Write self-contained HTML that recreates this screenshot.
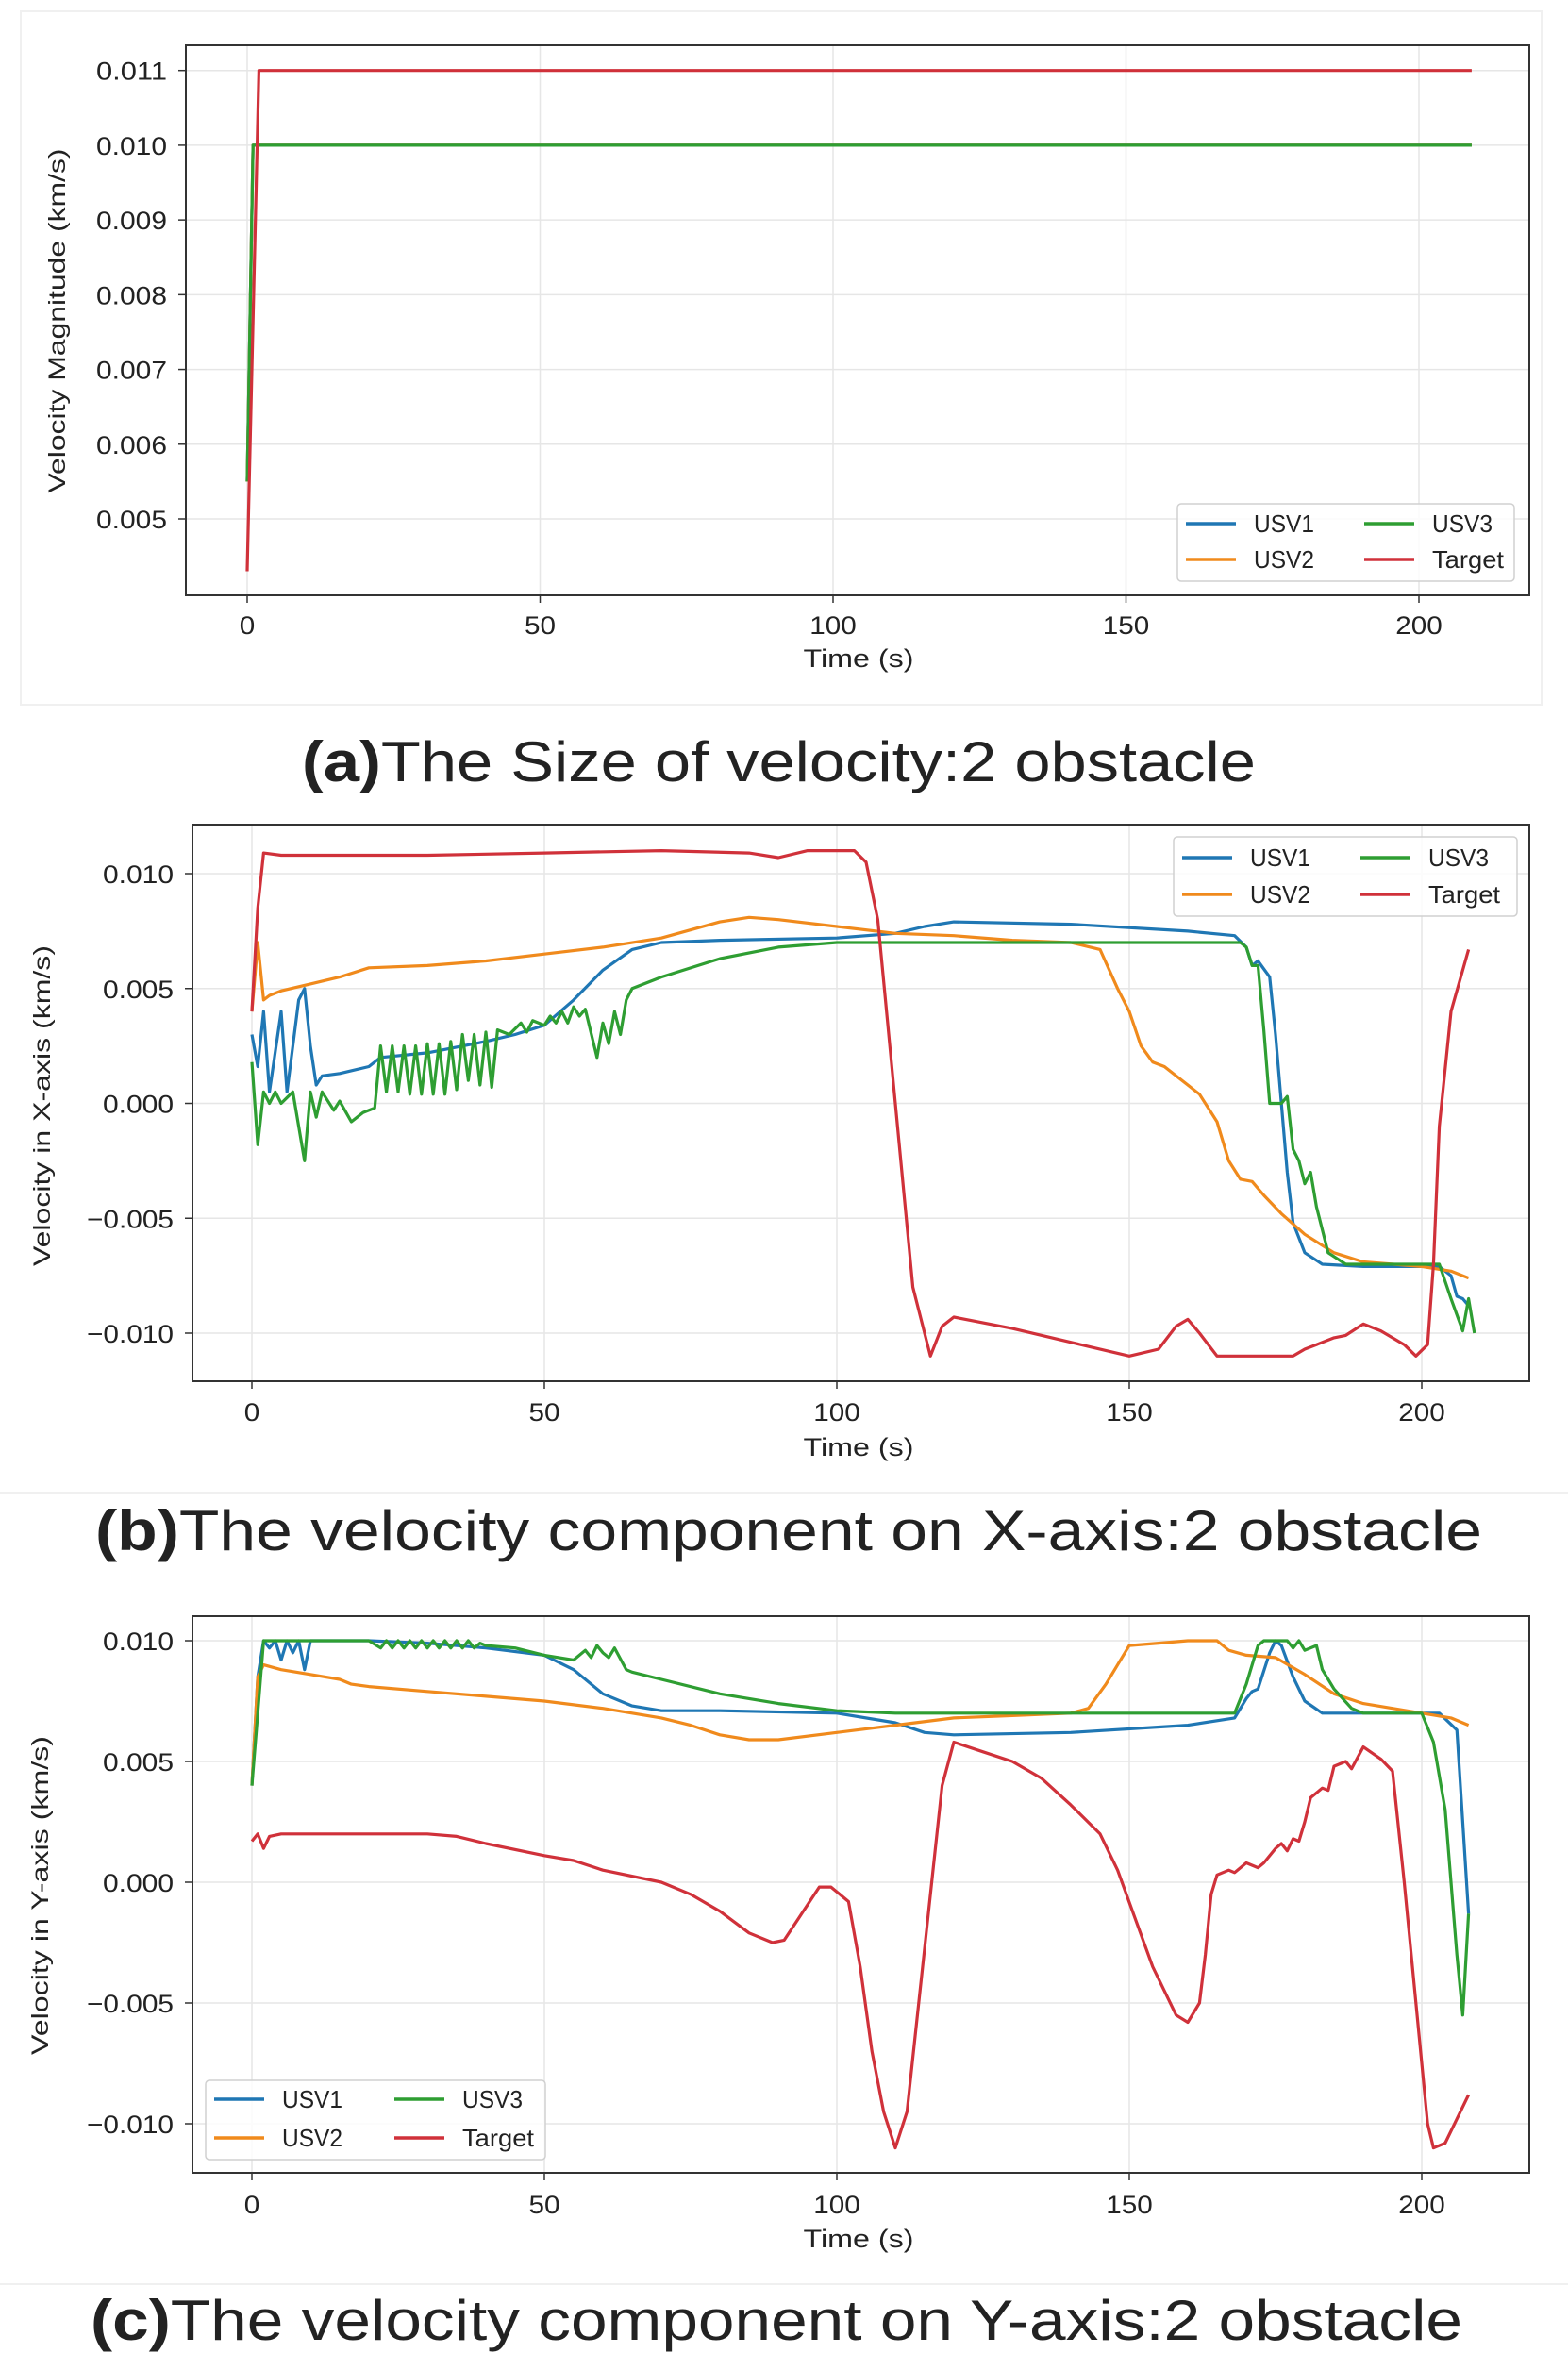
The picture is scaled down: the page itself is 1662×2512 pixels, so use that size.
<!DOCTYPE html>
<html><head><meta charset="utf-8"><style>
html,body{margin:0;padding:0;background:#fff}
svg{display:block}
text{font-family:"Liberation Sans",sans-serif;fill:#222}
</style></head><body>
<svg id="fig" width="1662" height="2512" viewBox="0 0 1662 2512" xmlns="http://www.w3.org/2000/svg"></svg>
<script>
// ---- data ----
const seriesNames = ["USV1","USV2","USV3","Target"];
const seriesColors = ["#1f77b4","#f08a1c","#2e9e32","#d0313a"];

const aTicksY = [0.005,0.006,0.007,0.008,0.009,0.010,0.011];
const aTickLabelsY = ["0.005","0.006","0.007","0.008","0.009","0.010","0.011"];
const xTicks = [0,50,100,150,200];
const xTickLabels = ["0","50","100","150","200"];
const bcTicksY = [-0.010,-0.005,0,0.005,0.010];
const bcTickLabelsY = ["\u22120.010","\u22120.005","0.000","0.005","0.010"];

const aUSV1 = [[0,0.0055],[1,0.010],[209,0.010]];
const aUSV2 = [[0,0.0055],[1,0.010],[209,0.010]];
const aUSV3 = [[0,0.0055],[1,0.010],[209,0.010]];
const aTarget = [[0,0.0043],[2,0.011],[209,0.011]];

const bUSV1 = [[0,0.003],[1,0.0016],[2,0.004],[3,0.0005],[5,0.004],[6,0.0005],[8,0.0045],[9,0.005],[10,0.0025],[11,0.0008],[12,0.0012],[15,0.0013],[20,0.0016],[22,0.002],[30,0.0022],[40,0.0027],[45,0.003],[50,0.0034],[55,0.0045],[60,0.0058],[65,0.0067],[70,0.007],[80,0.0071],[100,0.0072],[110,0.0074],[115,0.0077],[120,0.0079],[140,0.0078],[160,0.0075],[168,0.0073],[170,0.0068],[171,0.006],[172,0.0062],[174,0.0055],[175,0.003],[176,0.0],[177,-0.003],[178,-0.0052],[180,-0.0065],[183,-0.007],[190,-0.0071],[203,-0.0071],[205,-0.0075],[206,-0.0084],[207,-0.0085],[208,-0.0088]];
const bUSV2 = [[0,0.004],[1,0.007],[2,0.0045],[3,0.0047],[5,0.0049],[10,0.0052],[15,0.0055],[20,0.0059],[30,0.006],[40,0.0062],[50,0.0065],[60,0.0068],[70,0.0072],[80,0.0079],[85,0.0081],[90,0.008],[100,0.0077],[110,0.0074],[120,0.0073],[130,0.0071],[140,0.007],[145,0.0067],[148,0.005],[150,0.004],[152,0.0025],[154,0.0018],[156,0.0016],[158,0.0012],[160,0.0008],[162,0.0004],[165,-0.0008],[167,-0.0025],[169,-0.0033],[171,-0.0034],[173,-0.004],[176,-0.0048],[180,-0.0057],[185,-0.0065],[190,-0.0069],[200,-0.0071],[205,-0.0073],[208,-0.0076]];
const bUSV3 = [[0,0.0018],[1,-0.0018],[2,0.0005],[3,0.0],[4,0.0005],[5,0.0],[7,0.0005],[9,-0.0025],[10,0.0005],[11,-0.0006],[12,0.0005],[14,-0.0003],[15,0.0001],[17,-0.0008],[19,-0.0004],[21,-0.0002],[22,0.0025],[23,0.0005],[24,0.0025],[25,0.0005],[26,0.0025],[27,0.0004],[28,0.0025],[29,0.0004],[30,0.0026],[31,0.0004],[32,0.0026],[33,0.0004],[34,0.0027],[35,0.0006],[36,0.003],[37,0.001],[38,0.003],[39,0.0008],[40,0.0031],[41,0.0007],[42,0.0032],[44,0.003],[46,0.0035],[47,0.0031],[48,0.0036],[50,0.0034],[51,0.0038],[52,0.0035],[53,0.004],[54,0.0035],[55,0.0042],[56,0.0038],[57,0.0041],[59,0.002],[60,0.0035],[61,0.0026],[62,0.004],[63,0.003],[64,0.0045],[65,0.005],[70,0.0055],[80,0.0063],[90,0.0068],[100,0.007],[120,0.007],[169,0.007],[170,0.0068],[171,0.006],[172,0.006],[173,0.0032],[174,0.0],[176,0.0],[177,0.0003],[178,-0.002],[179,-0.0025],[180,-0.0035],[181,-0.003],[182,-0.0045],[184,-0.0065],[187,-0.007],[203,-0.007],[205,-0.0085],[207,-0.0099],[208,-0.0085],[209,-0.0100]];
const bTarget = [[0,0.004],[1,0.0085],[2,0.0109],[5,0.0108],[30,0.0108],[50,0.0109],[70,0.011],[85,0.0109],[90,0.0107],[95,0.011],[103,0.011],[105,0.0105],[107,0.008],[110,0.0],[113,-0.008],[116,-0.011],[118,-0.0097],[120,-0.0093],[130,-0.0098],[140,-0.0104],[150,-0.011],[155,-0.0107],[158,-0.0097],[160,-0.0094],[162,-0.01],[165,-0.011],[178,-0.011],[180,-0.0107],[182,-0.0105],[185,-0.0102],[187,-0.0101],[190,-0.0096],[193,-0.0099],[197,-0.0105],[199,-0.011],[201,-0.0105],[202,-0.007],[203,-0.001],[205,0.004],[208,0.0067]];

const cUSV1 = [[0,0.004],[1,0.0085],[2,0.01],[3,0.0097],[4,0.01],[5,0.0092],[6,0.01],[7,0.0095],[8,0.01],[9,0.0088],[10,0.01],[20,0.01],[30,0.0099],[40,0.0097],[50,0.0094],[55,0.0088],[60,0.0078],[65,0.0073],[70,0.0071],[80,0.0071],[100,0.007],[110,0.0066],[115,0.0062],[120,0.0061],[140,0.0062],[160,0.0065],[168,0.0068],[170,0.0076],[171,0.0079],[172,0.008],[174,0.0095],[175,0.01],[176,0.0098],[178,0.0085],[180,0.0075],[183,0.007],[190,0.007],[203,0.007],[206,0.0063],[208,-0.0013]];
const cUSV2 = [[0,0.004],[1,0.0085],[2,0.009],[5,0.0088],[10,0.0086],[15,0.0084],[17,0.0082],[20,0.0081],[30,0.0079],[40,0.0077],[50,0.0075],[60,0.0072],[70,0.0068],[75,0.0065],[80,0.0061],[85,0.0059],[90,0.0059],[100,0.0062],[110,0.0065],[120,0.0068],[130,0.0069],[140,0.007],[143,0.0072],[146,0.0082],[148,0.009],[150,0.0098],[155,0.0099],[160,0.01],[165,0.01],[167,0.0096],[170,0.0094],[175,0.0093],[180,0.0086],[185,0.0078],[190,0.0074],[200,0.007],[205,0.0068],[208,0.0065]];
const cUSV3 = [[0,0.004],[2,0.01],[10,0.01],[20,0.01],[22,0.0097],[23,0.01],[24,0.0097],[25,0.01],[26,0.0097],[27,0.01],[28,0.0097],[29,0.01],[30,0.0097],[31,0.01],[32,0.0097],[33,0.01],[34,0.0097],[35,0.01],[36,0.0097],[37,0.01],[38,0.0097],[39,0.0099],[40,0.0098],[45,0.0097],[50,0.0094],[55,0.0092],[57,0.0096],[58,0.0093],[59,0.0098],[60,0.0095],[61,0.0093],[62,0.0097],[64,0.0088],[65,0.0087],[70,0.0084],[80,0.0078],[90,0.0074],[100,0.0071],[110,0.007],[168,0.007],[170,0.0082],[172,0.0098],[173,0.01],[177,0.01],[178,0.0097],[179,0.01],[180,0.0096],[182,0.0098],[183,0.0088],[185,0.008],[188,0.0072],[190,0.007],[200,0.007],[202,0.0058],[204,0.003],[206,-0.003],[207,-0.0055],[208,-0.0013]];
const cTarget = [[0,0.0017],[1,0.002],[2,0.0014],[3,0.0019],[5,0.002],[15,0.002],[30,0.002],[35,0.0019],[40,0.0016],[50,0.0011],[55,0.0009],[60,0.0005],[70,0.0],[75,-0.0005],[80,-0.0012],[85,-0.0021],[89,-0.0025],[91,-0.0024],[94,-0.0013],[97,-0.0002],[99,-0.0002],[102,-0.0008],[104,-0.0035],[106,-0.007],[108,-0.0095],[110,-0.011],[112,-0.0095],[114,-0.005],[116,-0.0005],[118,0.004],[120,0.0058],[125,0.0054],[130,0.005],[135,0.0043],[140,0.0032],[145,0.002],[148,0.0005],[151,-0.0015],[154,-0.0035],[158,-0.0055],[160,-0.0058],[162,-0.005],[163,-0.003],[164,-0.0005],[165,0.0003],[167,0.0005],[168,0.0004],[170,0.0008],[172,0.0006],[173,0.0008],[175,0.0014],[176,0.0016],[177,0.0013],[178,0.0018],[179,0.0017],[180,0.0025],[181,0.0035],[183,0.0039],[184,0.0038],[185,0.0048],[187,0.005],[188,0.0047],[190,0.0056],[193,0.0051],[195,0.0046],[197,0.0],[199,-0.005],[201,-0.01],[202,-0.011],[204,-0.0108],[206,-0.0098],[208,-0.0088]];

// ---- drawing ----
const NS="http://www.w3.org/2000/svg";
const svg=document.getElementById('fig');
function el(tag,attrs,parent,txt){const e=document.createElementNS(NS,tag);for(const k in attrs)e.setAttribute(k,attrs[k]);if(txt!==undefined)e.textContent=txt;(parent||svg).appendChild(e);return e;}
function tlen(s,dw){let w=0;for(const c of s){w+= (c==='.')?7:(c==='\u2212'?17:dw);}return w;}

function chart(cfg){
  const g=el('g',{},svg);
  
  
  const X=t=>cfg.x0+(t-0)*(cfg.x200-cfg.x0)/200;
  const Y=v=>cfg.yA+(v-cfg.vA)*(cfg.yB-cfg.yA)/(cfg.vB-cfg.vA);
  const grid=el('g',{},g);
  
  
  cfg.yt.forEach((v,i)=>{
    const y=Y(v);
    el('line',{x1:cfg.L,x2:cfg.R,y1:y,y2:y,stroke:'#e6e6e6','stroke-width':1.5},grid);
    el('line',{x1:cfg.L-8,x2:cfg.L,y1:y,y2:y,stroke:'#333','stroke-width':1.5},g);
    const s=cfg.ytl[i];
    const t=el('text',{x:cfg.L-20,y:y+10,'text-anchor':'end','font-size':27,textLength:tlen(s,17),lengthAdjust:'spacingAndGlyphs'},g,s);
    
    
  });
  xTicks.forEach((v,i)=>{
    const x=X(v);
    el('line',{x1:x,x2:x,y1:cfg.T,y2:cfg.B,stroke:'#e6e6e6','stroke-width':1.5},grid);
    el('line',{x1:x,x2:x,y1:cfg.B,y2:cfg.B+8,stroke:'#333','stroke-width':1.5},g);
    const s=xTickLabels[i];
    const t=el('text',{x:x,y:cfg.xtb,'text-anchor':'middle','font-size':27,textLength:tlen(s,16.5),lengthAdjust:'spacingAndGlyphs'},g,s);
    
    
  });
  const cp='clip_'+cfg.name;
  const cd=el('clipPath',{id:cp},g);el('rect',{x:cfg.L,y:cfg.T,width:cfg.R-cfg.L,height:cfg.B-cfg.T},cd);
  cfg.data.forEach((d,i)=>{
    const p=el('path',{d:d.map((q,j)=>(j?'L':'M')+X(q[0]).toFixed(1)+','+Y(q[1]).toFixed(1)).join(''),fill:'none',stroke:seriesColors[i],'stroke-width':3.2,'stroke-linejoin':'round','clip-path':'url(#'+cp+')'},g);
    
    
  });
  const fr=el('rect',{x:cfg.L,y:cfg.T,width:cfg.R-cfg.L,height:cfg.B-cfg.T,fill:'none',stroke:'#333','stroke-width':2},g);
  
  
  const xl=el('text',{x:910,y:cfg.xlb,'text-anchor':'middle','font-size':27,textLength:117,lengthAdjust:'spacingAndGlyphs'},g,'Time (s)');
  
  
  const yl=el('text',{x:0,y:0,'text-anchor':'middle','font-size':25,textLength:cfg.ylLen,lengthAdjust:'spacingAndGlyphs',transform:'translate('+(cfg.ylx+9)+','+cfg.ylc+') rotate(-90)'},g,cfg.ylabel);
  
  
  // legend
  const lg=el('g',{},g);
  
  
  const b=cfg.leg;
  el('rect',{x:b.x,y:b.y,width:b.w,height:b.h,rx:4,fill:'#fff','fill-opacity':0.85,stroke:'#d0d0d0','stroke-width':1.5},lg);
  const pos=[[0,0],[0,1],[1,0],[1,1]];
  seriesNames.forEach((n,i)=>{
    const cx=b.x+(pos[i][0]?b.c2:b.c1), ry=b.y+(pos[i][1]?b.r2:b.r1);
    el('line',{x1:cx,x2:cx+53,y1:ry,y2:ry,stroke:seriesColors[i],'stroke-width':3.5},lg);
    const t=el('text',{x:cx+72,y:ry+9,'font-size':26,textLength:n==='Target'?76:64,lengthAdjust:'spacingAndGlyphs'},lg,n);
    
    
  });
  // caption
  const c=el('text',{x:cfg.capX,y:cfg.capY,'font-size':60,textLength:cfg.capLen,lengthAdjust:'spacingAndGlyphs',fill:'#000'},svg);
  
  
  el('tspan',{'font-weight':'bold'},c,cfg.capA);
  el('tspan',{},c,cfg.capB);
}

// faint panel borders
el('rect',{x:22,y:12,width:1612,height:735,fill:'none',stroke:'#f0f0f0','stroke-width':2});
el('line',{x1:0,x2:1662,y1:1582,y2:1582,stroke:'#f0f0f0','stroke-width':2});
el('line',{x1:0,x2:1662,y1:2421,y2:2421,stroke:'#f0f0f0','stroke-width':2});

chart({name:'chart-a-velocity-magnitude',L:197,R:1621,T:48,B:631,x0:262,x200:1504,yA:74.7,vA:0.011,yB:550,vB:0.005,
  yt:aTicksY,ytl:aTickLabelsY,xtb:672,xlb:707,ylabel:'Velocity Magnitude (km/s)',ylx:60,ylc:340,ylLen:365,
  data:[aUSV1,aUSV2,aUSV3,aTarget],leg:{x:1248,y:534,w:357,h:82,c1:9,c2:198,r1:21,r2:59},
  capX:320,capY:828,capLen:1011,capA:'(a)',capB:'The Size of velocity:2 obstacle'});
chart({name:'chart-b-velocity-x',L:204,R:1621,T:874,B:1464,x0:267,x200:1507,yA:926,vA:0.010,yB:1413,vB:-0.010,
  yt:bcTicksY,ytl:bcTickLabelsY,xtb:1506,xlb:1543,ylabel:'Velocity in X-axis (km/s)',ylx:44,ylc:1172,ylLen:340,
  data:[bUSV1,bUSV2,bUSV3,bTarget],leg:{x:1244,y:887,w:364,h:84,c1:9,c2:198,r1:22,r2:61},
  capX:101,capY:1643,capLen:1470,capA:'(b)',capB:'The velocity component on X-axis:2 obstacle'});
chart({name:'chart-c-velocity-y',L:204,R:1621,T:1713,B:2303,x0:267,x200:1507,yA:1739,vA:0.010,yB:2251,vB:-0.010,
  yt:bcTicksY,ytl:bcTickLabelsY,xtb:2346,xlb:2382,ylabel:'Velocity in Y-axis (km/s)',ylx:42,ylc:2009,ylLen:338,
  data:[cUSV1,cUSV2,cUSV3,cTarget],leg:{x:218,y:2205,w:360,h:84,c1:9,c2:200,r1:20,r2:61},
  capX:96,capY:2480,capLen:1454,capA:'(c)',capB:'The velocity component on Y-axis:2 obstacle'});
</script>
</body></html>
